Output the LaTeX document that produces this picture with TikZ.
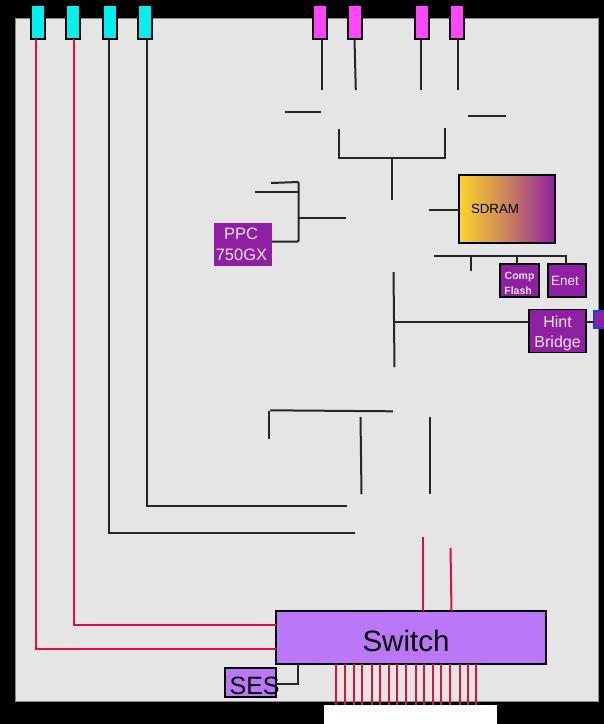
\documentclass[tikz,border=0pt]{standalone}
\usepackage{fontspec}
\setmainfont{Liberation Sans}
\usepackage{xcolor}
\usetikzlibrary{positioning}
\definecolor{HwGray}{RGB}{229,229,229}
\definecolor{HwPurple}{RGB}{143,31,163}
\definecolor{HwLilac}{RGB}{186,120,248}
\definecolor{HwCyan}{RGB}{0,240,240}
\definecolor{HwPink}{RGB}{255,70,255}
\definecolor{HwRed}{RGB}{225,15,60}
\definecolor{HwYellow}{RGB}{252,212,40}
\definecolor{HwText}{RGB}{245,230,250}
\definecolor{HwBlue}{RGB}{30,60,240}

\begin{document}
\begin{tikzpicture}[
      x=1pt, y=-1pt,
      box/.style={rectangle, draw=black, line width=1.5pt, inner sep=0pt, outer sep=0pt},
      port/.style={box, minimum width=14pt, minimum height=34pt},
      chip/.style={box, fill=HwPurple, text=HwText, align=center},
      wire/.style={line width=2pt, black!85},
      rwire/.style={line width=2pt, HwRed}
    ]
    \useasboundingbox (0,0) rectangle (604,724);
    % Frame and panel
    \fill[black] (0,0) rectangle (604,724);
    \fill[HwGray, draw=black!45, line width=0.6pt] (15,18) rectangle (598,701);
    \fill[white] (324,705) rectangle (497,724);

    % Ports on top
    \foreach \i/\x in {1/38, 2/73, 3/110, 4/145} {
      \node[port, fill=HwCyan] (cy\i) at (\x, 22) {};
    }
    \foreach \i/\x in {1/320, 2/355, 3/422, 4/457} {
      \node[port, fill=HwPink] (mg\i) at (\x, 22) {};
    }

    % Switch and SES
    \node[box, fill=HwLilac, minimum width=270pt, minimum height=53pt, font=\fontsize{29.5}{32}\selectfont]
      (sw) at (411, 637.5) {\hspace*{-10pt}\raisebox{0pt}[27pt][0pt]{Switch}};
    \node[box, fill=HwLilac, minimum width=51pt, minimum height=29pt, font=\fontsize{25}{27}\selectfont]
      (ses) at (250.6, 682.5) {\hspace*{4pt}\makebox[46pt][l]{\raisebox{0pt}[24pt][0pt]{SES}}};
    \coordinate (sesup) at (297.5, 683.5);
    \draw[wire] (ses.east |- sesup) -- (sesup) -- (sesup |- sw.south);

    % Left wires
    \coordinate (rd1) at (35.5, 648.5);
    \coordinate (rd2) at (73.5, 624.5);
    \draw[rwire] (rd1 |- cy1.south) -- (rd1) -- (sw.west |- rd1);
    \draw[rwire] (rd2 |- cy2.south) -- (rd2) -- (sw.west |- rd2);
    \coordinate (bk1) at (108.5, 532.5);
    \coordinate (bk1e) at (355, 532.5);
    \coordinate (bk2) at (146.5, 505.5);
    \coordinate (bk2e) at (347, 505.5);
    \draw[wire] (bk1 |- cy3.south) -- (bk1) -- (bk1e);
    \draw[wire] (bk2 |- cy4.south) -- (bk2) -- (bk2e);

    % Stubs below the top ports
    \foreach \i/\x/\y in {1/321.5/321.5, 2/354.5/355.8, 3/420.5/420.5, 4/457.5/457.5} {
      \coordinate (mge\i) at (\y, 90);
      \draw[wire] (\x, 39) -- (mge\i);
    }
    \coordinate (st1a) at (285, 111.5);
    \coordinate (st1b) at (321, 111.5);
    \coordinate (st2a) at (468, 115.5);
    \coordinate (st2b) at (506, 115.5);
    \draw[wire] (st1a) -- (st1b);
    \draw[wire] (st2a) -- (st2b);

    % Bracket
    \coordinate (brl) at (338.5, 129);
    \coordinate (brm) at (338.5, 157.5);
    \coordinate (brn) at (444.5, 157.5);
    \coordinate (brr) at (444.5, 128);
    \coordinate (brc) at (391.5, 157.5);
    \coordinate (brd) at (391.5, 200);
    \draw[wire] (brl) -- (brm) -- (brn) -- (brr);
    \draw[wire] (brc) -- (brd);

    % PPC
    \node[chip, draw=none, minimum width=58pt, minimum height=43pt, font=\fontsize{16.5}{21}\selectfont]
      (ppc) at (243, 244.5) {\hspace*{-4pt}PPC\\\hspace*{-3pt}750GX};
    \coordinate (ppcb) at (298.5, 241.5);
    \coordinate (ppct) at (298.5, 182);
    \coordinate (ppca) at (271, 183);
    \coordinate (ppcc) at (255, 191.5);
    \coordinate (ppcd) at (298.5, 191.5);
    \coordinate (ppce) at (298.5, 217.5);
    \coordinate (ppcf) at (346, 217.5);
    \draw[wire, rounded corners=1pt] (ppc.east |- ppcb) -- (ppcb) -- (ppct) -- (ppca);
    \draw[wire] (ppcc) -- (ppcd);
    \draw[wire] (ppce) -- (ppcf);

    % SDRAM
    \node[box, left color=HwYellow, right color=HwPurple, middle color=HwPurple!45!HwYellow,
          minimum width=96pt, minimum height=68pt, text width=72pt, inner xsep=12pt,
          align=left, font=\fontsize{13.3}{15}\selectfont]
      (sdram) at (507, 209) {SDRAM};
    \coordinate (sdl) at (429, 209.5);
    \draw[wire] (sdl) -- (sdl -| sdram.west);

    % Small chips
    \node[chip, minimum width=39pt, minimum height=33pt, font=\fontsize{10.5}{15.5}\selectfont\bfseries]
      (flash) at (519.6, 280.5) {\rule{0pt}{13pt}Comp\\\hspace*{-3pt}Flash};
    \node[chip, minimum width=38pt, minimum height=33pt, font=\fontsize{13.5}{15}\selectfont]
      (enet) at (567, 280.5) {\hspace*{-4pt}Enet};
    \coordinate (bus) at (434, 255.5);
    \coordinate (busf) at (516.5, 255.5);
    \coordinate (buse) at (565.5, 255.5);
    \coordinate (bust) at (470.5, 255.5);
    \coordinate (bustd) at (470.5, 271);
    \draw[wire] (bus) -- (buse) -- (buse |- enet.north);
    \draw[wire] (busf) -- (busf |- flash.north);
    \draw[wire] (bust) -- (bustd);

    % Hint Bridge
    \node[chip, minimum width=57pt, minimum height=43pt, font=\fontsize{16}{20}\selectfont]
      (hint) at (557.6, 331.2) {\rule{0pt}{16pt}Hint\\Bridge};
    \node[box, draw=HwBlue, line width=2pt, fill=HwPurple, minimum width=13pt, minimum height=17pt]
      (blue) at (600, 319) {};
    \coordinate (hbl) at (394, 321.5);
    \coordinate (hbt) at (393.5, 272);
    \coordinate (hbb) at (394.5, 367);
    \draw[wire] (hbl) -- (hbl -| hint.west);
    \draw[wire] (hbl -| hint.east) -- (hbl -| blue.west);
    \draw[wire] (hbt) -- (hbb);

    % Lower lines
    \coordinate (lwa) at (268.5, 439);
    \coordinate (lwb) at (268.5, 411);
    \coordinate (lwc) at (270, 410.3);
    \coordinate (lwd) at (393, 411.3);
    \coordinate (lwe) at (360.5, 417);
    \coordinate (lwf) at (361.5, 494);
    \coordinate (lwg) at (429.5, 417);
    \coordinate (lwh) at (429.5, 494);
    \draw[wire] (lwa) -- (lwb);
    \draw[wire] (lwc) -- (lwd);
    \draw[wire] (lwe) -- (lwf);
    \draw[wire] (lwg) -- (lwh);

    % Red lines into the switch
    \coordinate (rta) at (422.5, 537);
    \coordinate (rtb) at (450.5, 548);
    \draw[rwire] (rta) -- (rta |- sw.north);
    \draw[rwire] (rtb) -- (451.5, 611);
    \foreach \x in {335,344,353,361,371,379,388,396,405,415,423,432,440,449,459,467,475} {
      \coordinate (rb\x) at (\x.5, 705);
      \draw[rwire] (rb\x |- sw.south) -- (rb\x);
    }
  \end{tikzpicture}
\end{document}
